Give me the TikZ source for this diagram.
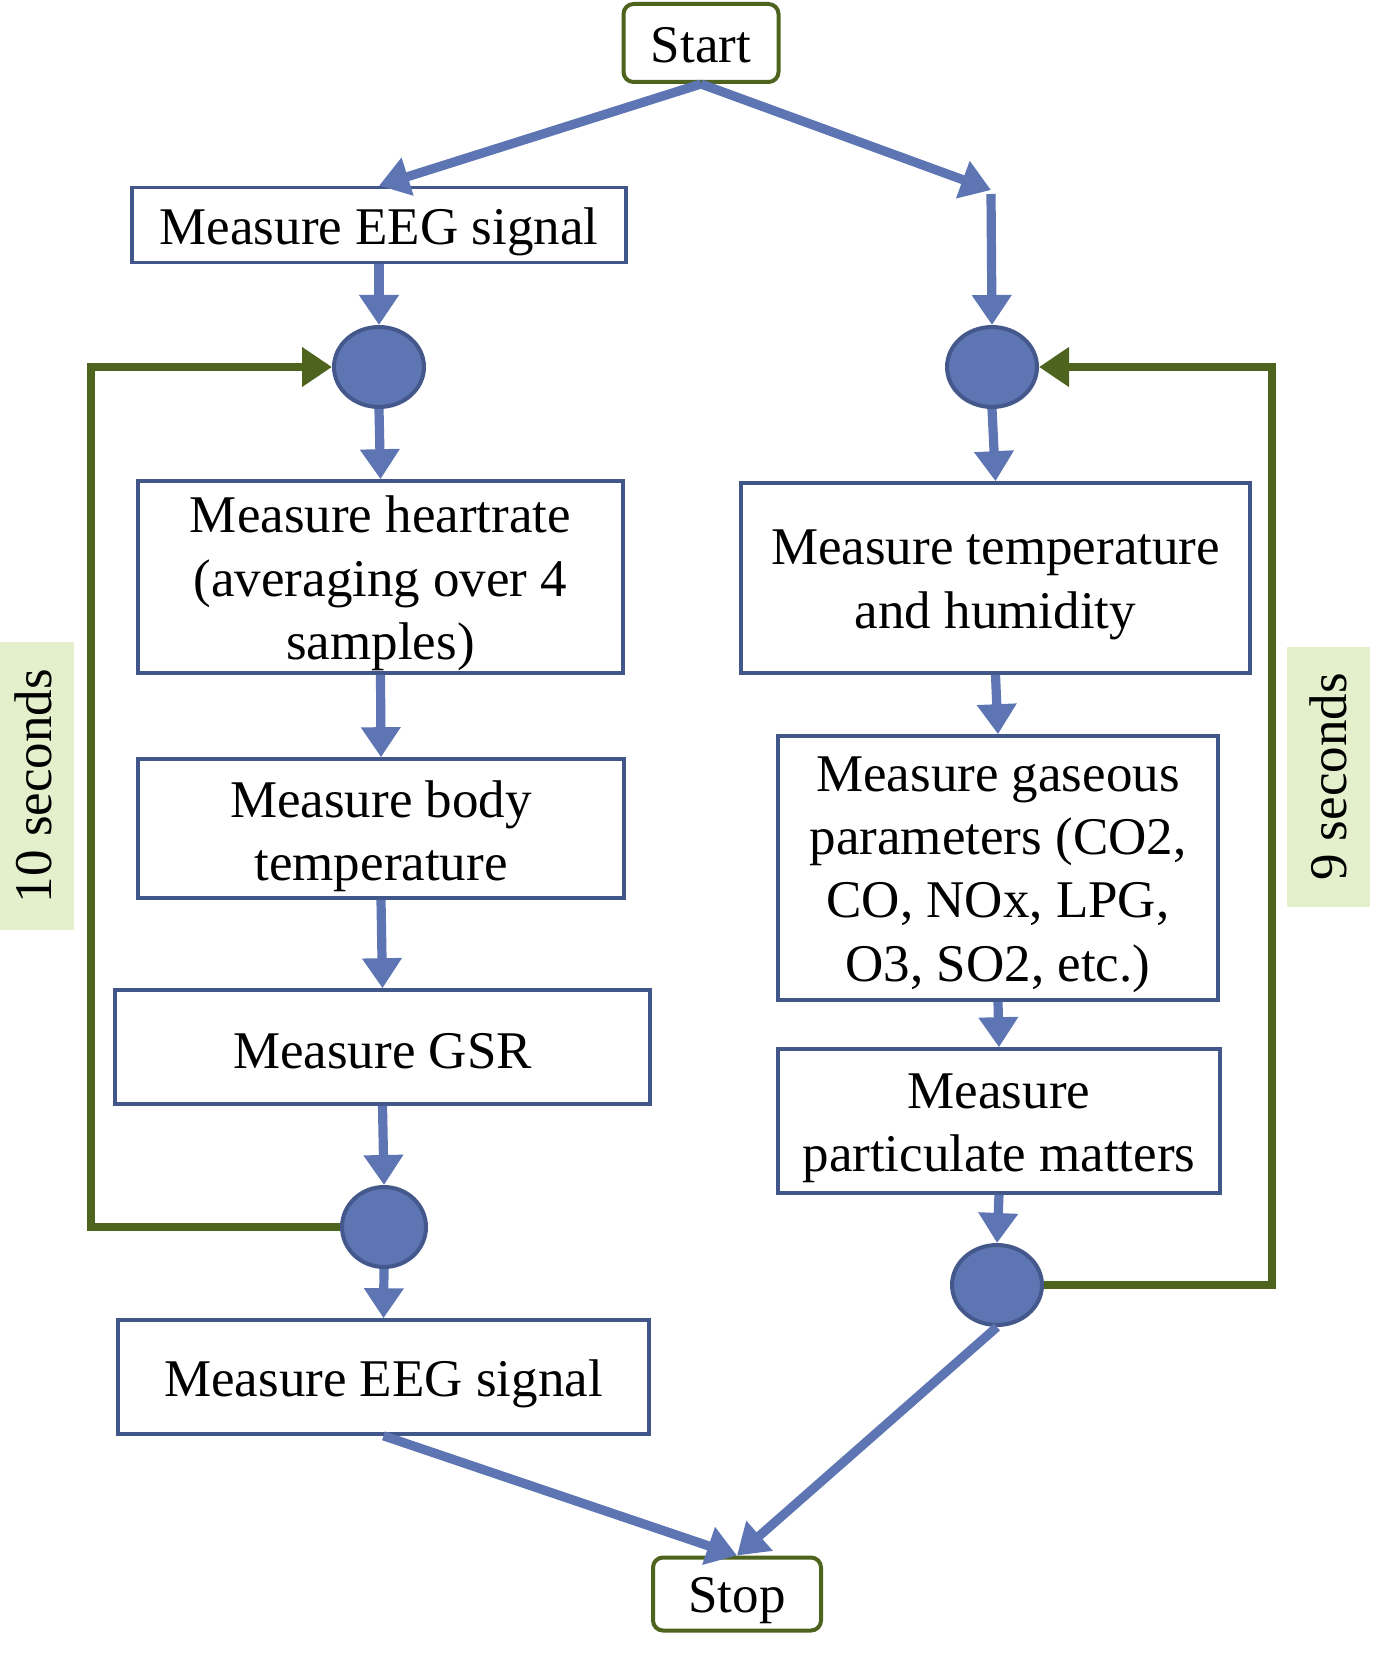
\documentclass[tikz,border=0pt]{standalone}
\usepackage{fontspec}
\setmainfont{Liberation Serif}
\usetikzlibrary{arrows.meta,shapes.geometric}
\definecolor{lblue}{RGB}{94,117,180}
\definecolor{bborder}{RGB}{66,87,137}
\definecolor{cborder}{RGB}{68,88,140}
\definecolor{dgreen}{RGB}{78,100,30}
\definecolor{lgreen}{RGB}{227,240,203}
\tikzset{
  box/.style={draw=bborder, line width=1.8pt, fill=white, inner sep=0pt},
  term/.style={draw=dgreen, line width=2pt, rounded corners=5pt, fill=white, inner sep=0pt},
  tx/.style={inner sep=0pt, align=center, font=\fontsize{26.5}{31.7}\selectfont},
  junc/.style={ellipse, draw=cborder, line width=2pt, fill=lblue, inner sep=0pt,
    minimum width=45pt, minimum height=40pt},
  flow/.style={draw=lblue, line width=4.6pt, -{Triangle[width=19pt,length=15pt]}},
  loop/.style={draw=dgreen, line width=3.8pt, -{Triangle[width=19pt,length=15pt]}},
  lab/.style={fill=lgreen, inner sep=0pt, rotate=90}
}
\begin{document}
\begin{tikzpicture}[x=0.5pt,y=-0.5pt]
\useasboundingbox (0,0) rectangle (1383,1658);
% labels
\node[lab, minimum width=144pt, minimum height=37pt] (lab10) at (37,786) {};
\node[tx, rotate=90] (lab10t) at ([xshift=-2pt]lab10.center) {10 seconds};
\node[lab, minimum width=130pt, minimum height=41.5pt] (lab9) at (1328.5,777) {};
\node[tx, rotate=90] (lab9t) at (lab9.center) {9 seconds};
% terminals
\node[term, minimum width=77.5pt, minimum height=39pt] (start) at (701,43) {};
\node[tx] (startt) at ([yshift=-1pt]start.center) {Start};
\node[term, minimum width=84pt, minimum height=36.5pt] (stop) at (737,1594) {};
\node[tx] (stopt) at ([yshift=-3.5pt]stop.center) {Stop};
% left column
\node[box, minimum width=247pt, minimum height=37.5pt] (eeg1) at (379,225) {};
\node[tx] (eeg1t) at ([yshift=-3.5pt]eeg1.center) {Measure EEG signal};
\node[junc] (L1) at (379,367) {};
\node[box, minimum width=242.5pt, minimum height=96pt] (heart) at (380.5,577) {};
\node[tx] (heartt) at ([yshift=-3.2pt]heart.center) {Measure heartrate\\(averaging over 4\\samples)};
\node[box, minimum width=243pt, minimum height=69.5pt] (body) at (381,828.5) {};
\node[tx] (bodyt) at ([yshift=-3.8pt]body.center) {Measure body\\temperature};
\node[box, minimum width=267.5pt, minimum height=57pt] (gsr) at (382.5,1047) {};
\node[tx] (gsrt) at ([yshift=-2pt]gsr.center) {Measure GSR};
\node[junc, minimum width=42pt] (L2) at (384,1227) {};
\node[box, minimum width=265.5pt, minimum height=57pt] (eeg2) at (383.5,1377) {};
\node[tx] (eeg2t) at ([yshift=-3.5pt]eeg2.center) {Measure EEG signal};
% right column
\coordinate (rtop) at (991,190);
\node[junc] (R1) at (992,367) {};
\node[box, minimum width=254.5pt, minimum height=95pt] (temp) at (995.5,578) {};
\node[tx] (tempt) at ([yshift=-3.5pt]temp.center) {Measure temperature\\and humidity};
\node[box, minimum width=220pt, minimum height=132pt] (gas) at (998,868) {};
\node[tx] (gast) at ([yshift=-3.2pt]gas.center) {Measure gaseous\\parameters (CO2,\\CO, NOx, LPG,\\O3, SO2, etc.)};
\node[box, minimum width=221pt, minimum height=72pt] (part) at (999,1121) {};
\node[tx] (partt) at ([yshift=-3.5pt]part.center) {Measure\\particulate matters};
\node[junc] (R2) at (997,1285) {};
% loop corners
\coordinate (lc1) at (91,1227);
\coordinate (lc2) at (91,367);
\coordinate (rc1) at (1272,1285);
\coordinate (rc2) at (1272,367);
% flow arrows
\draw[flow] (start.south) -- (eeg1.north);
\draw[flow] (start.south) -- (rtop);
\draw[flow] ([yshift=-2pt]rtop) -- (R1.north);
\draw[flow] (eeg1.south) -- (L1.north);
\draw[flow] (L1.south) -- (heart.north);
\draw[flow] (heart.south) -- (body.north);
\draw[flow] (body.south) -- (gsr.north);
\draw[flow] (gsr.south) -- (L2.north);
\draw[flow] (L2.south) -- (eeg2.north);
\draw[flow] (eeg2.south) -- (stop.north);
\draw[flow] (R1.south) -- (temp.north);
\draw[flow] (temp.south) -- (gas.north);
\draw[flow] (gas.south) -- (part.north);
\draw[flow] (part.south) -- (R2.north);
\draw[flow] (R2.south) -- (stop.north);
% loops
\draw[loop] (L2.west) -- (lc1) -- (lc2) -- (L1.west);
\draw[loop] (R2.east) -- (rc1) -- (rc2) -- (R1.east);
\end{tikzpicture}
\end{document}
